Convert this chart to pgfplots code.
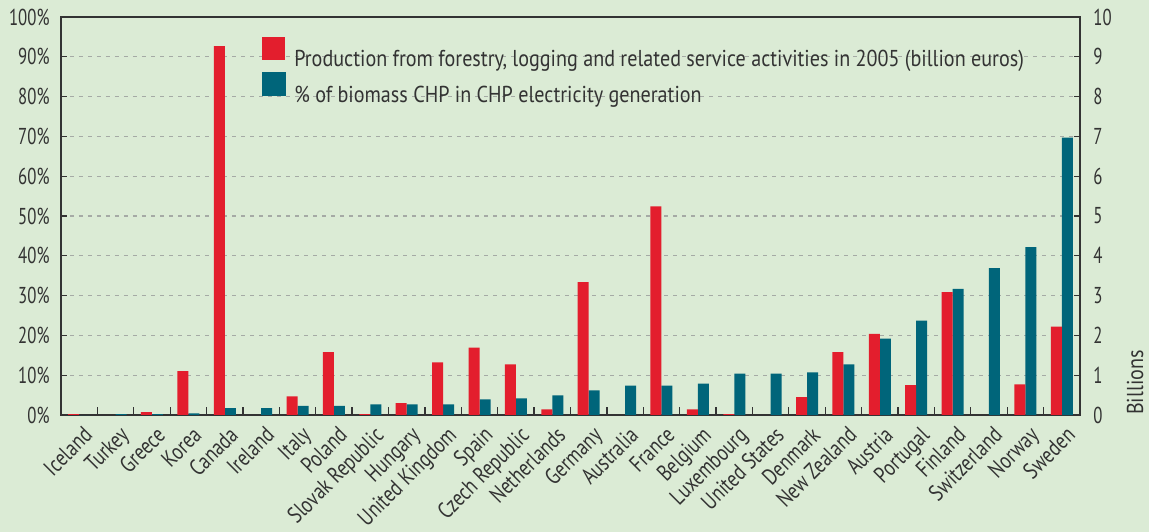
\documentclass[border=0pt]{standalone}
\usepackage{fontspec}
\setmainfont{PT Sans}
\usepackage{pgfplots}
\usepackage{pgfplotstable}
\pgfplotsset{compat=1.18}
\definecolor{bg}{RGB}{219,235,213}
\definecolor{bred}{RGB}{227,30,45}
\definecolor{bteal}{RGB}{0,101,122}
\definecolor{ink}{RGB}{51,51,51}
\definecolor{gridc}{RGB}{165,170,165}
\newcommand\lab{\fontsize{23bp}{27bp}\selectfont}
% horizontally condensed text
\newcommand\cx[2][0.875]{\scalebox{#1}[1]{#2}}
\newcommand\cl[1]{\scalebox{0.8}[1]{#1}}

% prod in billion euros (right axis), chp in % (left axis)
\pgfplotstableread{
idx prod chp
0  0.02 0
1  0    0.2
2  0.07 0.2
3  1.10 0.4
4  9.27 1.7
5  0    1.7
6  0.47 2.3
7  1.58 2.3
8  0.02 2.7
9  0.30 2.7
10 1.32 2.7
11 1.69 3.9
12 1.27 4.2
13 0.14 4.9
14 3.34 6.2
15 0    7.4
16 5.24 7.4
17 0.14 7.9
18 0.02 10.4
19 0    10.4
20 0.45 10.7
21 1.58 12.7
22 2.04 19.2
23 0.75 23.7
24 3.09 31.7
25 0    36.9
26 0.77 42.2
27 2.22 69.7
}\datatable

\begin{document}
\begin{tikzpicture}
\fill[bg] (-61bp,-117bp) rectangle (1088bp,415bp);
\useasboundingbox (-61bp,-117bp) rectangle (1088bp,415bp);
\pgfplotsset{
  every axis/.append style={
    scale only axis, width=1019bp, height=398bp,
    at={(0,0)}, anchor=south west,
    xmin=-0.5, xmax=27.5,
    axis line style={ink, line width=1.3bp},
    tick style={ink, line width=1.3bp},
    tick label style={font=\lab, text=ink},
    major tick length=6bp,
    /pgf/number format/assume math mode=true,
  },
}
\begin{axis}[
    ymin=0, ymax=100,
    ytick={0,10,...,100},
    yticklabel={\cx[0.73]{\pgfmathprintnumber{\tick}\%}},
    y tick label style={xshift=-8bp},
    ytick pos=left,
    xtick={0,...,27},
    xticklabels={\cl{Iceland}, \cl{Turkey}, \cl{Greece}, \cl{Korea}, \cl{Canada}, \cl{Ireland}, \cl{Italy}, \cl{Poland}, \cl{Slovak Republic}, \cl{Hungary}, \cl{United Kingdom}, \cl{Spain}, \cl{Czech Republic}, \cl{Netherlands}, \cl{Germany}, \cl{Australia}, \cl{France}, \cl{Belgium}, \cl{Luxembourg}, \cl{United States}, \cl{Denmark}, \cl{New Zealand}, \cl{Austria}, \cl{Portugal}, \cl{Finland}, \cl{Switzerland}, \cl{Norway}, \cl{Sweden}},
    x tick label style={xshift=3bp, yshift=-10bp, rotate=45, anchor=north east, inner sep=0pt},
    major x tick style={draw=none},
    minor xtick={0.5,1.5,...,26.5},
    minor tick length=8bp,
    xtick pos=bottom,
    ymajorgrids,
    major grid style={gridc, line width=1.2bp, dash pattern=on 4bp off 5bp},
]
\addplot[ybar, bar width=11bp, bar shift=5.5bp, fill=bteal, draw=none]
  table[x=idx, y=chp] {\datatable};
\end{axis}
\begin{axis}[
    ymin=0, ymax=10,
    ytick={0,...,10},
    yticklabel={\cx[0.73]{\pgfmathprintnumber{\tick}}},
    y tick label style={xshift=10bp},
    axis x line=none,
    axis y line*=right,
    y axis line style={ink, line width=1.3bp},
    legend style={at={(0.197,0.949)}, anchor=north west, draw=none, fill=none,
      font=\lab, text=ink, inner sep=0pt, row sep=4bp,
      nodes={inner sep=0pt},
      /tikz/every odd column/.append style={column sep=9bp}},
    legend cell align=left,
]
\addplot[ybar, bar width=11bp, bar shift=-5.5bp, fill=bred, draw=none,
  legend image code/.code={\fill[bred] (0bp,-1bp) rectangle (23bp,22bp);}]
  table[x=idx, y=prod] {\datatable};
\addlegendentry{\cx{Production from forestry, logging and related service activities in 2005 (billion euros)}}
\addlegendimage{legend image code/.code={\fill[bteal] (0bp,-1bp) rectangle (23bp,22bp);}}
\addlegendentry{\cx{\% of biomass CHP in CHP electricity generation}}
\end{axis}
\node[rotate=90, anchor=west, font=\lab, text=ink, inner sep=0pt] at (1074bp,0) {\cx{Billions}};
\end{tikzpicture}
\end{document}
